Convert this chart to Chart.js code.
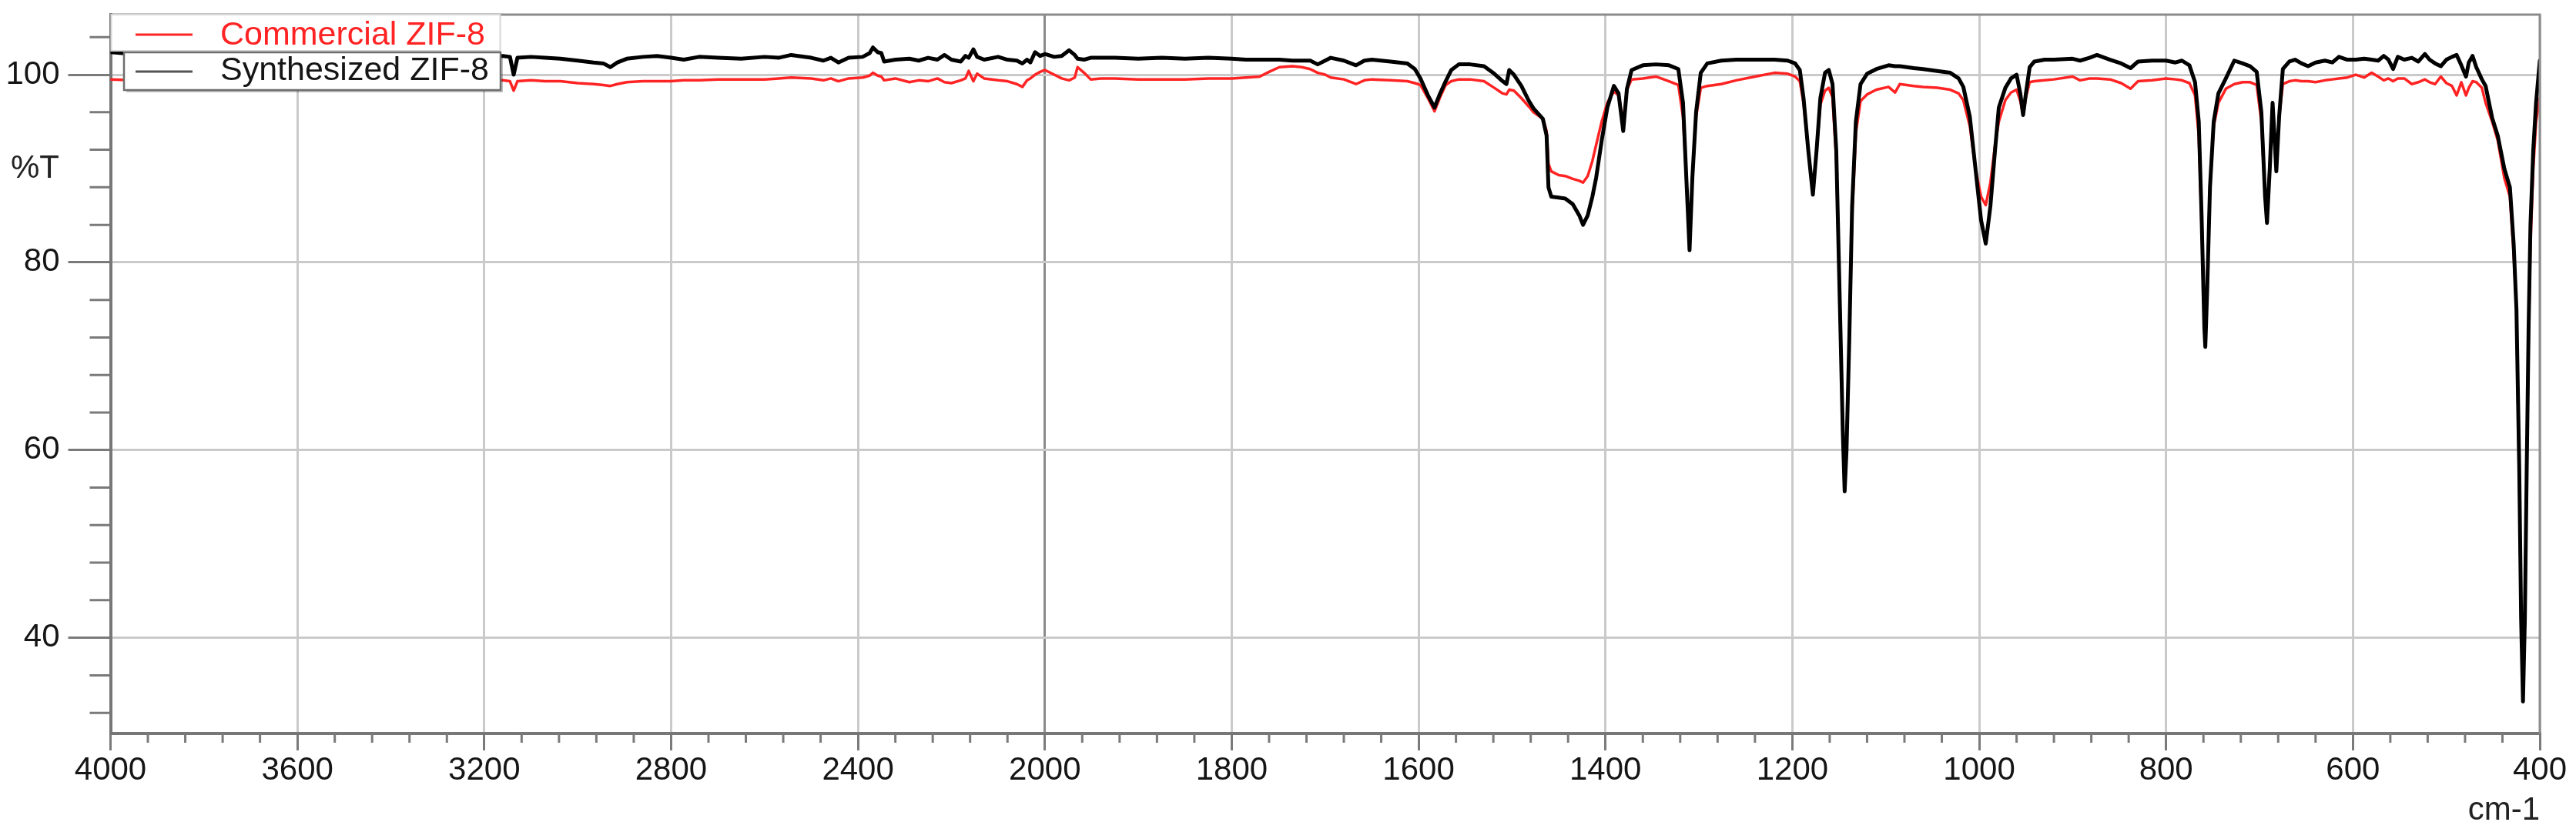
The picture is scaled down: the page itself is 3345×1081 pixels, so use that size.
<!DOCTYPE html>
<html>
<head>
<meta charset="utf-8">
<title>FTIR - ZIF-8</title>
<script src="https://cdn.jsdelivr.net/npm/chart.js@4.4.1/dist/chart.umd.min.js"></script>
<style>
  html, body { margin: 0; padding: 0; background: #fff; }
  canvas { display: block; }
</style>
</head>
<body>
<canvas id="ftir-chart" width="3345" height="1081"></canvas>
<script>
const seriesLabels = ['Commercial ZIF-8', 'Synthesized ZIF-8'];

// wavenumber (cm-1)
const wavenumbers = [
  4000, 3950, 3900, 3850, 3800, 3750, 3700, 3650, 3600, 3550,
  3500, 3450, 3400, 3350, 3300, 3250, 3200, 3160, 3145, 3137,
  3129, 3100, 3070, 3037, 3000, 2966, 2945, 2930, 2915, 2895,
  2860, 2830, 2800, 2773, 2740, 2700, 2650, 2600, 2570, 2543,
  2500, 2474, 2458, 2442, 2420, 2390, 2375, 2368, 2358, 2350,
  2344, 2320, 2290, 2270, 2250, 2230, 2215, 2200, 2180, 2170,
  2163, 2153, 2145, 2130, 2100, 2080, 2060, 2048, 2038, 2031,
  2021, 2010, 2000, 1990, 1982, 1974, 1968, 1965, 1958, 1951,
  1940, 1925, 1900, 1875, 1850, 1825, 1800, 1785, 1770, 1760,
  1749, 1735, 1725, 1716, 1708, 1700, 1694, 1680, 1667, 1658,
  1650, 1630, 1612, 1604, 1598, 1590, 1583, 1577, 1571, 1565,
  1557, 1545, 1530, 1519, 1510, 1506, 1503, 1498, 1490, 1482,
  1477, 1467, 1463, 1461, 1458, 1450, 1443, 1435, 1428, 1424,
  1419, 1414, 1410, 1404, 1398, 1391, 1386, 1381, 1377, 1372,
  1360, 1346, 1332, 1322, 1317, 1313, 1310, 1307, 1303, 1298,
  1291, 1276, 1260, 1240, 1219, 1205, 1197, 1192, 1188, 1183,
  1178, 1174, 1170, 1165, 1161, 1157, 1153, 1149, 1146, 1144,
  1142, 1139, 1136, 1132, 1127, 1120, 1110, 1097, 1090, 1085,
  1070, 1060, 1045, 1031, 1022, 1017, 1010, 1004, 998, 993,
  988, 983, 979, 972, 966, 960, 956, 953, 950, 946,
  941, 930, 920, 900, 892, 882, 874, 860, 848, 838,
  830, 815, 800, 790, 783, 775, 769, 765, 762, 759,
  758, 756, 753, 749, 744, 736, 727, 718, 710, 703,
  698, 694, 692, 689, 686, 684, 682, 679, 675, 668,
  662, 655, 648, 640, 630, 622, 615, 606, 597, 588,
  580, 573, 567, 562, 557, 552, 545, 537, 530, 523,
  518, 512, 506, 500, 494, 489, 484, 479, 476, 472,
  468, 462, 458, 451, 445, 438, 432, 428, 425, 422,
  420, 418, 416, 414, 412, 410, 407, 404, 400
];

// %T, synthesized sample (black)
const synthesizedT = [
  102.4, 102.2, 102.3, 102.1, 102.2, 102.3, 102.1, 102.2, 102.2, 102.1,
  102.3, 102.2, 102.1, 102.2, 102.1, 102.2, 102.0, 102.0, 101.9, 100.0,
  101.8, 101.9, 101.8, 101.7, 101.5, 101.3, 101.2, 100.8, 101.3, 101.7,
  101.9, 102.0, 101.8, 101.6, 101.9, 101.8, 101.7, 101.9, 101.8, 102.1,
  101.8, 101.5, 101.8, 101.3, 101.8, 101.9, 102.3, 102.9, 102.4, 102.3,
  101.4, 101.6, 101.7, 101.5, 101.8, 101.6, 102.1, 101.6, 101.4, 102.0,
  101.8, 102.7, 101.9, 101.6, 101.9, 101.6, 101.5, 101.2, 101.6, 101.3,
  102.4, 102.0, 102.2, 101.9, 102.0, 102.6, 102.1, 101.7, 101.6, 101.8,
  101.8, 101.8, 101.7, 101.8, 101.7, 101.8, 101.7, 101.6, 101.6, 101.6,
  101.6, 101.5, 101.5, 101.5, 101.1, 101.5, 101.8, 101.5, 101.0, 101.5,
  101.6, 101.4, 101.2, 100.6, 99.6, 97.8, 96.5, 98.0, 99.3, 100.5,
  101.1, 101.1, 100.9, 100.1, 99.3, 99.0, 100.5, 100.0, 98.8, 97.2,
  96.4, 95.3, 93.5, 88.0, 87.0, 86.9, 86.8, 86.2, 85.0, 84.0,
  85.0, 87.0, 89.0, 93.0, 96.5, 98.8, 98.0, 94.0, 98.5, 100.5,
  101.0, 101.1, 101.0, 100.6, 97.0, 88.0, 81.3, 89.0, 96.0, 100.2,
  101.2, 101.5, 101.6, 101.6, 101.6, 101.5, 101.2, 100.5, 97.5, 92.0,
  87.2, 92.0, 97.5, 100.2, 100.5, 99.0, 92.0, 75.0, 62.0, 55.6,
  60.0, 72.0, 86.0, 95.0, 99.0, 100.1, 100.6, 101.0, 100.9, 100.9,
  100.7, 100.6, 100.4, 100.2, 99.6, 98.7, 95.5, 90.0, 84.5, 82.0,
  86.0, 92.0, 96.5, 98.6, 99.6, 100.0, 98.0, 95.7, 98.0, 100.8,
  101.4, 101.6, 101.6, 101.7, 101.5, 101.8, 102.1, 101.6, 101.2, 100.7,
  101.4, 101.5, 101.5, 101.3, 101.5, 101.0, 99.2, 95.0, 85.0, 73.0,
  71.0, 77.0, 88.0, 95.0, 98.0, 99.6, 101.5, 101.2, 100.9, 100.3,
  96.0, 87.0, 84.2, 90.0, 97.0, 93.5, 89.7, 95.5, 100.6, 101.4,
  101.6, 101.2, 100.9, 101.3, 101.5, 101.3, 101.9, 101.6, 101.6, 101.7,
  101.6, 101.5, 102.0, 101.6, 100.6, 101.9, 101.6, 101.8, 101.4, 102.2,
  101.6, 101.2, 100.9, 101.6, 101.9, 102.1, 101.0, 99.8, 101.3, 102.0,
  100.8, 99.5, 98.8, 95.4, 93.5, 90.0, 88.0, 82.0, 75.0, 58.0,
  42.0, 33.2, 42.0, 58.0, 73.0, 84.0, 92.0, 97.0, 101.5
];

// %T, commercial sample (red)
const commercialT = [
  99.5, 99.4, 99.5, 99.4, 99.3, 99.4, 99.4, 99.5, 99.4, 99.3,
  99.4, 99.4, 99.3, 99.4, 99.4, 99.3, 99.4, 99.4, 99.3, 98.3,
  99.3, 99.4, 99.3, 99.3, 99.1, 99.0, 98.9, 98.8, 99.0, 99.2,
  99.3, 99.3, 99.3, 99.4, 99.4, 99.5, 99.5, 99.5, 99.6, 99.7,
  99.6, 99.4, 99.6, 99.3, 99.6, 99.7, 99.9, 100.2, 99.9, 99.8,
  99.4, 99.6, 99.2, 99.4, 99.3, 99.6, 99.2, 99.1, 99.4, 99.6,
  100.4, 99.3, 100.1, 99.6, 99.4, 99.3, 99.0, 98.7, 99.4, 99.6,
  100.0, 100.3, 100.5, 100.0, 99.6, 99.4, 99.7, 100.8, 100.2, 99.5,
  99.6, 99.6, 99.5, 99.5, 99.5, 99.6, 99.6, 99.7, 99.8, 100.3,
  100.8, 100.9, 100.8, 100.6, 100.2, 100.0, 99.7, 99.5, 99.0, 99.4,
  99.5, 99.4, 99.3, 99.1, 98.9, 97.5, 96.1, 97.6, 98.9, 99.3,
  99.5, 99.5, 99.3, 98.6, 98.0, 97.9, 98.4, 98.3, 97.5, 96.6,
  96.0, 95.3, 94.0, 90.5, 89.7, 89.3, 89.2, 88.9, 88.7, 88.5,
  89.2, 90.8, 92.5, 95.0, 97.0, 98.2, 97.8, 95.0, 98.4, 99.5,
  99.6, 99.8, 99.3, 98.9, 95.5, 88.0, 81.6, 89.0, 95.5, 98.6,
  98.8, 99.0, 99.4, 99.8, 100.2, 100.1, 99.8, 99.3, 97.0, 92.0,
  87.6, 92.0, 96.8, 98.3, 98.6, 97.6, 91.0, 75.0, 62.0, 56.5,
  60.5, 72.0, 85.0, 93.8, 97.2, 97.9, 98.4, 98.7, 98.1, 99.0,
  98.8, 98.7, 98.6, 98.4, 98.0, 97.3, 94.5, 90.0, 87.0, 86.1,
  88.5, 92.5, 95.0, 97.3, 98.1, 98.4, 97.2, 95.7, 97.6, 99.2,
  99.3, 99.4, 99.5, 99.8, 99.4, 99.6, 99.6, 99.5, 99.1, 98.5,
  99.3, 99.4, 99.6, 99.5, 99.4, 99.1, 97.8, 93.5, 84.0, 74.0,
  72.0, 78.0, 88.0, 94.5, 97.0, 98.5, 99.0, 99.2, 99.2, 98.9,
  95.0, 87.0, 85.0, 90.5, 96.3, 93.5, 90.5, 95.5, 99.0, 99.3,
  99.4, 99.3, 99.3, 99.2, 99.4, 99.5, 99.6, 99.7, 100.0, 99.7,
  100.2, 99.8, 99.4, 99.6, 99.3, 99.6, 99.6, 99.0, 99.2, 99.5,
  99.2, 99.0, 99.8, 99.1, 98.8, 97.8, 99.2, 97.8, 98.6, 99.3,
  99.2, 98.6, 97.0, 95.0, 93.0, 89.0, 87.0, 81.0, 75.0, 57.0,
  42.0, 33.5, 42.0, 58.0, 72.0, 82.0, 90.0, 95.0, 97.5
];

const xTickValues = [4000, 3600, 3200, 2800, 2400, 2000, 1800, 1600, 1400, 1200, 1000, 800, 600, 400];
const yTickValues = [40, 60, 80, 100];

// the spectrometer axis changes scale at 2000 cm-1 (400 per division above, 200 below)
const X_HIGH = 4000;
const X_BREAK = 2000;
const X_LOW = 400;
const HIGH_SHARE = 5 / 13;

// minor tick marks: 80 cm-1 apart above the break, 40 below; 4 %T apart
const xMinorTicks = [];
for (let v = 3920; v > X_BREAK; v -= 80) if (!xTickValues.includes(v)) xMinorTicks.push(v);
for (let v = 1960; v > X_LOW; v -= 40) if (!xTickValues.includes(v)) xMinorTicks.push(v);
const yMinorTicks = [];
for (let v = 32; v <= 104; v += 4) if (!yTickValues.includes(v)) yMinorTicks.push(v);

const FONT = "'Liberation Sans', Arial, Helvetica, sans-serif";

class SplitWavenumberScale extends Chart.LinearScale {
  static id = 'splitWavenumber';

  buildTicks() {
    return xTickValues.map(v => ({ value: v }));
  }

  getPixelForValue(value) {
    let f;
    if (value >= X_BREAK) {
      f = (X_HIGH - value) / (X_HIGH - X_BREAK) * HIGH_SHARE;
    } else {
      f = HIGH_SHARE + (X_BREAK - value) / (X_BREAK - X_LOW) * (1 - HIGH_SHARE);
    }
    return this.getPixelForDecimal(f);
  }

  getValueForPixel(pixel) {
    const f = this.getDecimalForPixel(pixel);
    if (f <= HIGH_SHARE) return X_HIGH - f / HIGH_SHARE * (X_HIGH - X_BREAK);
    return X_BREAK - (f - HIGH_SHARE) / (1 - HIGH_SHARE) * (X_BREAK - X_LOW);
  }
}
Chart.register(SplitWavenumberScale);

// frame, minor ticks, boxed legend and axis units
const spectrumDecor = {
  id: 'spectrumDecor',
  afterDraw(chart) {
    const ctx = chart.ctx;
    const a = chart.chartArea;
    const xs = chart.scales.x;
    const ys = chart.scales.y;
    ctx.save();

    ctx.strokeStyle = '#8c8c8c';
    ctx.lineWidth = 3;
    ctx.beginPath();
    ctx.moveTo(a.left, a.top);
    ctx.lineTo(a.right, a.top);
    ctx.lineTo(a.right, a.bottom);
    ctx.stroke();

    ctx.strokeStyle = '#7a7a7a';
    ctx.lineWidth = 3;
    ctx.beginPath();
    xMinorTicks.forEach(v => {
      const px = xs.getPixelForValue(v);
      ctx.moveTo(px, a.bottom);
      ctx.lineTo(px, a.bottom + 12);
    });
    yMinorTicks.forEach(v => {
      const py = ys.getPixelForValue(v);
      ctx.moveTo(a.left - 27, py);
      ctx.lineTo(a.left, py);
    });
    ctx.stroke();

    // legend: two boxes stacked in the top-left corner
    const red = chart.data.datasets[1];
    ctx.fillStyle = '#fff';
    ctx.strokeStyle = '#d6d6d6';
    ctx.lineWidth = 2;
    ctx.fillRect(a.left + 1, a.top, 505, 47);
    ctx.strokeRect(a.left + 1, a.top, 505, 47);

    ctx.fillStyle = 'rgba(0,0,0,0.25)';
    ctx.fillRect(164, 71, 489, 49);
    ctx.fillStyle = '#fff';
    ctx.fillRect(161, 68, 489, 49);
    ctx.strokeStyle = '#6e6e6e';
    ctx.lineWidth = 2.5;
    ctx.strokeRect(161, 68, 489, 49);

    ctx.lineWidth = 3;
    ctx.strokeStyle = red.borderColor;
    ctx.beginPath();
    ctx.moveTo(176, 45);
    ctx.lineTo(250, 45);
    ctx.stroke();
    ctx.strokeStyle = '#555';
    ctx.beginPath();
    ctx.moveTo(176, 93);
    ctx.lineTo(250, 93);
    ctx.stroke();

    ctx.font = '43px ' + FONT;
    ctx.textBaseline = 'middle';
    ctx.textAlign = 'left';
    ctx.fillStyle = red.borderColor;
    ctx.fillText(red.label, 286, 46);
    ctx.fillStyle = '#151515';
    ctx.fillText(chart.data.datasets[0].label, 286, 92);

    ctx.font = '42px ' + FONT;
    ctx.fillStyle = '#222';
    ctx.textAlign = 'right';
    ctx.fillText('%T', 77, ys.getPixelForValue(90));
    ctx.fillText('cm-1', a.right, 1053);
    ctx.restore();
  }
};

const ctx = document.getElementById('ftir-chart').getContext('2d');
window.ftirChart = new Chart(ctx, {
  type: 'line',
  data: {
    datasets: [
      {
        label: seriesLabels[1],
        data: wavenumbers.map((v, i) => ({ x: v, y: synthesizedT[i] })),
        borderColor: '#000000',
        borderWidth: 5,
        order: 0
      },
      {
        label: seriesLabels[0],
        data: wavenumbers.map((v, i) => ({ x: v, y: commercialT[i] })),
        borderColor: 'rgb(255, 35, 35)',
        borderWidth: 3.5,
        order: 1
      }
    ]
  },
  options: {
    responsive: false,
    animation: false,
    events: [],
    elements: {
      point: { radius: 0 },
      line: { tension: 0, borderJoinStyle: 'round', borderCapStyle: 'round', fill: false }
    },
    layout: { padding: { top: 19, right: 47, left: 0, bottom: 0 } },
    plugins: {
      legend: { display: false },
      tooltip: { enabled: false }
    },
    scales: {
      x: {
        type: 'splitWavenumber',
        min: X_LOW,
        max: X_HIGH,
        grid: {
          color: c => (c.tick && c.tick.value === X_BREAK ? '#8a8a8a' : '#cacaca'),
          lineWidth: 3,
          tickLength: 22,
          tickColor: '#7a7a7a',
          tickWidth: 3
        },
        border: { color: '#777', width: 4 },
        ticks: {
          autoSkip: false,
          maxRotation: 0,
          padding: 1,
          color: '#151515',
          font: { family: FONT, size: 42 },
          callback: v => String(v)
        },
        afterFit: s => {
          s.height = 128;
          s.paddingLeft = 0;
          s.paddingRight = 0;
        }
      },
      y: {
        min: 29.8,
        max: 106.4,
        afterBuildTicks: s => { s.ticks = yTickValues.map(v => ({ value: v })); },
        grid: {
          color: '#cacaca',
          lineWidth: 3,
          tickLength: 55,
          tickColor: '#7a7a7a',
          tickWidth: 3
        },
        border: { color: '#777', width: 4 },
        ticks: {
          padding: 11,
          color: '#151515',
          font: { family: FONT, size: 42 },
          callback: v => String(v)
        },
        afterFit: s => {
          s.width = 143.5;
          s.paddingTop = 0;
          s.paddingBottom = 0;
        }
      }
    }
  },
  plugins: [spectrumDecor]
});
</script>
</body>
</html>
